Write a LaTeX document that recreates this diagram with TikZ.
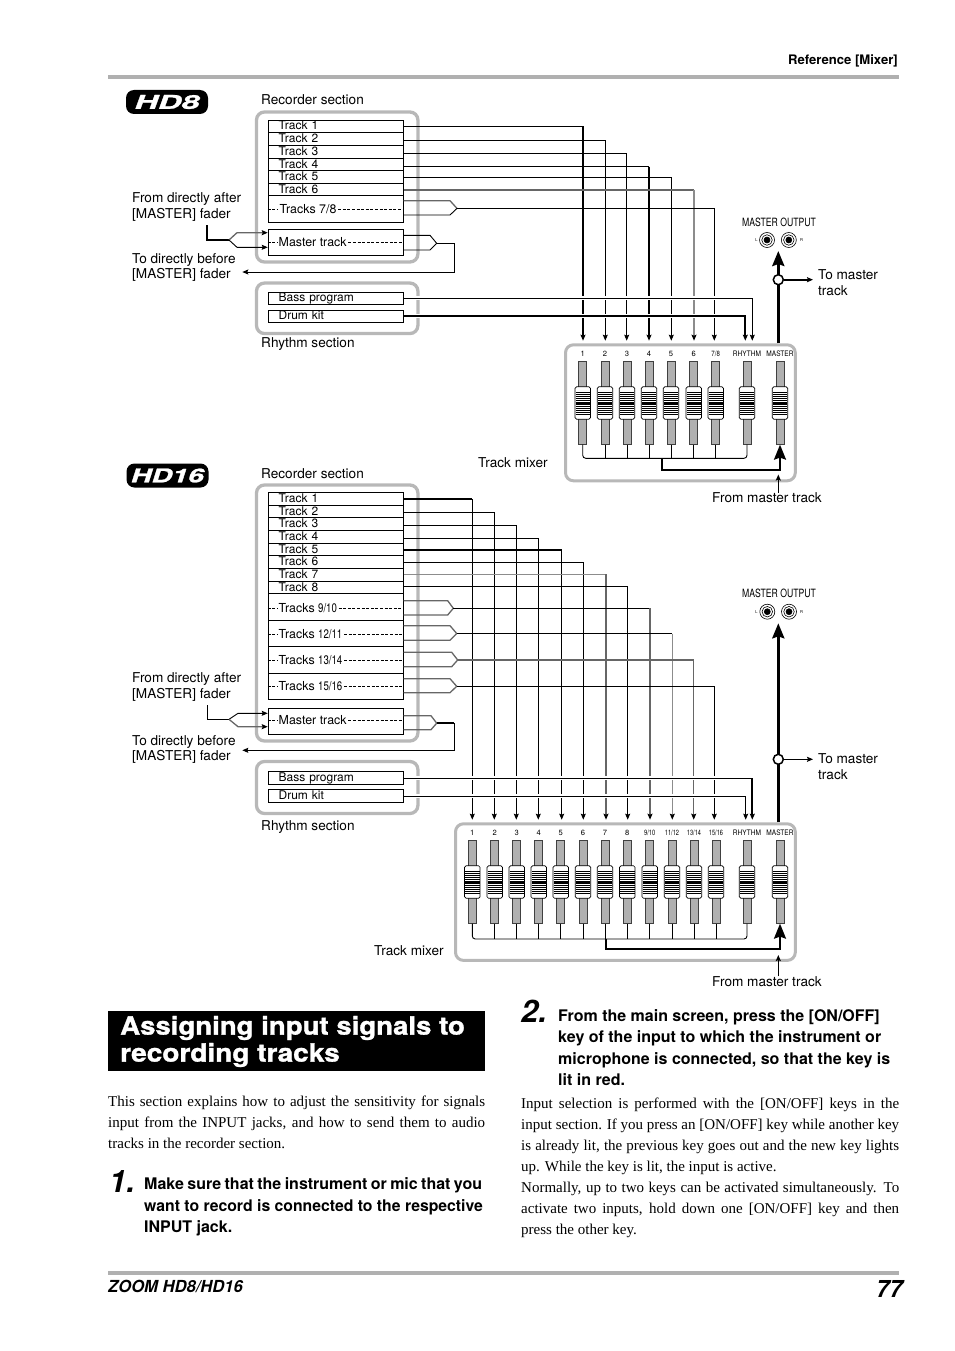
\documentclass[tikz,border=0pt]{standalone}
\usepackage{fontspec}
\setmainfont{Liberation Serif}
\setsansfont{TeX Gyre Heros}
\usetikzlibrary{arrows.meta}

\definecolor{rulegrey}{HTML}{B0B0B0}
\definecolor{framegrey}{HTML}{B8B8B8}
\definecolor{wiregrey}{HTML}{666666}
\definecolor{slotgrey}{HTML}{B0B0B0}

\newcommand{\fsz}[1]{\fontsize{#1}{#1}\selectfont}

\tikzset{
    smalltip/.tip={Stealth[length=6pt,width=5pt,inset=1pt,color=black]},
    bigtip/.tip={Stealth[length=15pt,width=12pt,inset=2pt]},
    wirethin/.style={line width=.9pt},
    wirebus/.style={line width=1.3pt,draw=wiregrey},
    wirepale/.style={line width=1.2pt,draw=black!45},
    wireheavy/.style={line width=1.9pt},
    halo/.style={line width=4pt,draw=white},
    dashrow/.style={line width=.6pt,dash pattern=on 3pt off 1.6pt},
    frame/.style={draw=framegrey,line width=3.3pt,rounded corners=8pt,minimum width=161.4pt},
    mixframe/.style={draw=framegrey,line width=3pt,rounded corners=8pt,fill=white},
    rowbox/.style={draw,line width=.8pt,text width=114pt,inner xsep=10.5pt,inner ysep=0pt,
        text height=8.4pt,text depth=1.3pt,font=\sffamily\fsz{12},align=left},
    rowtext/.style={anchor=west,inner xsep=1.5pt,inner ysep=0pt,font=\sffamily\fsz{12.4}},
    lbl/.style={anchor=west,inner sep=0pt,font=\sffamily\fsz{13.6},align=left},
    chan/.style={inner sep=0pt,text height=5.6pt,text depth=0pt,font=\sffamily\fsz{7.6}},
    slot/.style={draw=black!75,line width=.7pt,fill=slotgrey,minimum width=8pt,minimum height=82.6pt,inner sep=0pt},
    knob/.style={draw,line width=.7pt,fill=white,rounded corners=1.5pt,minimum width=15.5pt,minimum height=32.4pt,inner sep=0pt},
    badge/.style={fill=black,text=white,rounded corners=8pt,minimum width=82pt,minimum height=24pt,inner sep=0pt,
        font=\sffamily\bfseries\itshape\fsz{19}\addfontfeature{FakeBold=1.2}},
    jack/.style={circle,draw,line width=.6pt,inner sep=0pt},
    tap/.style={circle,draw,line width=1.5pt,fill=white,minimum size=10pt,inner sep=0pt},
    bodytext/.style={anchor=west,inner sep=0pt,align=justify,font=\rmfamily\fsz{15}},
    steptext/.style={anchor=west,inner sep=0pt,align=left,font=\sffamily\bfseries\fontsize{16}{21.6}\selectfont},
    stepnum/.style={inner sep=0pt,font=\sffamily\bfseries\itshape\fsz{31}},
}

% name, x, top of the slot, text above it
\newcommand{\faderstrip}[4]{
    \node[chan] (#1l) at (#2,#3-8.4) {#4};
    \node[slot] (#1) at (#2,#3+41.3) {};
    \node[knob] (#1k) at (#2,#3+41.3) {};
    \foreach \dy/\lw in {-11/.9,-9/.9,-7/.9,-5/.9,-3/1,0/3,3/1,5/.9,7/.9,9/.9,11/.9}
        \draw[line width=\lw pt] (#2-7.2,#3+41.3+\dy) -- (#2+7.2,#3+41.3+\dy);
}
% name, x, y
\newcommand{\jackpair}[3]{
    \node[jack,minimum size=15pt] (#1) at (#2,#3) {};
    \node[jack,minimum size=10.5pt] at (#1) {};
    \node[jack,fill=black,minimum size=6pt] at (#1) {};
}

\begin{document}
\begin{tikzpicture}[x=1pt,y=-1pt]
    \useasboundingbox (0,0) rectangle (954,1351);

    % page furniture
    \fill[rulegrey] (108,75) rectangle (899,79.5);
    \fill[rulegrey] (108,1270.5) rectangle (899,1275);
    \node[anchor=east,inner sep=0pt,font=\sffamily\bfseries\fsz{13.1}] (head) at (898,60.5) {Reference [Mixer]};
    \node[anchor=west,inner sep=0pt,font=\sffamily\bfseries\itshape\fsz{16.6}] (foot) at (108,1286) {ZOOM HD8/HD16};
    \node[anchor=east,inner sep=0pt,font=\sffamily\bfseries\itshape\fsz{24}] (page) at (903,1289) {77};

    % ---- HD8 ----
    \node[badge] (hd8) at (167,102) {\scalebox{1.7}[1]{HD8}};
    \node[lbl] (arec) at (261,99.5) {Recorder section};
    \node[lbl] (arhy) at (261,344.5) {Rhythm section};
    \node[lbl] (afrom) at (132,207) {From directly after\\[1.6pt][MASTER] fader};
    \node[lbl] (ato) at (132,267.5) {To directly before\\[1.6pt][MASTER] fader};
    \node[lbl] (amix) at (478,462.5) {Track mixer};
    \node[lbl] (afm) at (712,498) {From master track};
    \node[lbl,inner xsep=5pt] (atot) at (813,282.5) {To master\\[2.5pt]track};

    \node[frame,minimum height=150pt] (asec) at (337.2,187) {};
    \node[frame,minimum height=50.5pt] (bsec) at (337.2,308.3) {};
    \foreach \n/\y/\h/\lab in {1/126.3/12/Track 1,2/138.8/13/Track 2,3/151.8/13/Track 3,
        4/164.5/12.4/Track 4,5/177/12.6/Track 5,6/189.5/12.4/Track 6}
        \node[rowbox,minimum height=\h pt] (at\n) at (335.65,\y) {\lab};
    \node[rowbox,minimum height=26.3pt] (at7) at (335.65,208.85) {};
    \node[rowtext] (al7) at (278,208.85) {Tracks 7/8};
    \node[rowbox,minimum height=26pt] (atm) at (335.65,242.3) {};
    \node[rowtext] (alm) at (277,242.3) {Master track};
    \node[rowbox,minimum height=12pt] (abas) at (335.65,298.3) {Bass program};
    \node[rowbox,minimum height=12pt] (adrm) at (335.65,316.3) {Drum kit};
    \foreach \n in {7,m}{
        \draw[dashrow] (at\n.west) -- (al\n.west);
        \draw[dashrow] (al\n.east) -- (at\n.east);
    }

    \node[mixframe,minimum width=229.8pt,minimum height=136pt] (amx) at (680.4,412.8) {};
    \foreach \n/\x/\lab in {1/582.7/1,2/605/2,3/627/3,4/649/4,5/671/5,6/693.7/6}
        {\faderstrip{af\n}{\x}{361.7}{\lab}}
    \faderstrip{af7}{715.7}{361.7}{\scalebox{.8}[1]{7/8}}
    \faderstrip{afR}{747}{361.7}{\scalebox{.86}[1]{RHYTHM}}
    \faderstrip{afM}{780}{361.7}{\scalebox{.86}[1]{MASTER}}

    % tips of the wires into the mixer
    \foreach \n/\x in {1/583,2/605.3,3/626.7,4/649,5/671.3,6/694,7/714.3,B/752.3,D/745.3}
        \coordinate (ai\n) at (\x,340.7);
    \coordinate (am7) at (457,208.4);
    \coordinate (amm) at (436.7,243.3);
    \coordinate (ain) at (229,240);
    \coordinate (aback) at (242.3,272);
    \coordinate (aup) at (207,225);

    \foreach \n/\wy/\hs/\vs in {1/126.3/wirethin/wireheavy,2/140.3/wirethin/wirethin,3/153.3/wirethin/wirethin,
        4/166.7/wirethin/wireheavy,5/177.3/wirethin/wirethin,6/190/wirebus/wirepale}{
        \draw[\hs] (at\n.east |- 0,\wy) -- (ai\n |- 0,\wy);
        \draw[\vs,-smalltip] (ai\n |- 0,\wy) -- (ai\n);
    }
    \draw[wirebus,line join=miter] (at7.east |- 0,200.7) -- (450,200.7) -- (am7);
    \draw[wirethin] (am7) -- (450,215) -- (at7.east |- 0,215);
    \draw[wirethin,-smalltip] (am7) -| (ai7);

    \draw[halo] (abas.east) -- (abas.east -| aiB);
    \draw[halo] (adrm.east) -- (adrm.east -| aiD);
    \draw[wirethin,-smalltip] (abas.east) -| (aiB);
    \draw[wireheavy,-smalltip] (adrm.east) -| (aiD);

    \draw[wirethin] (atm.east |- 0,235.3) -- (430,235.3) -- (amm) -- (430,250) -- (atm.east |- 0,250);
    \draw[wirethin,-smalltip] (amm) -- (454.3,243.3) |- (aback);
    \draw[wireheavy] (aup) |- (ain);
    \draw[wirebus,-smalltip] (ain) -- (237,232.7) -- (atm.west |- 0,232.7);
    \draw[wirethin,-smalltip] (ain) -- (237,247.3) -- (atm.west |- 0,247.3);

    % bus under the faders, and the master
    \draw[wirethin,rounded corners=3pt] (af1.south) |- (afR.south |- 0,458.3) -- (afR.south);
    \foreach \n in {2,3,4,5,6,7}
        \draw[wirethin] (af\n.south) -- (af\n.south |- 0,458.3);
    \coordinate (abus) at (661.7,458.3);
    \draw[wireheavy,-bigtip] (abus) -- (661.7,470) -| (afM.south);
    \coordinate (afmt) at (778.3,474.5);
    \draw[line width=1.3pt,-smalltip] (afm.north -| afmt) -- (afmt);

    \node[inner sep=0pt,font=\sffamily\fsz{11.4}] (amo) at (779,222) {\scalebox{.76}[1]{MASTER OUTPUT}};
    \jackpair{ajl}{767}{240}
    \jackpair{ajr}{788.8}{240}
    \node[inner sep=0pt,font=\sffamily\fsz{4}] (all) at (756.5,240) {L};
    \node[inner sep=0pt,font=\sffamily\fsz{4}] (alr) at (801.5,240) {R};
    \coordinate (atop) at (778.3,251);
    \draw[line width=3pt,-bigtip] (amx.north -| atop) -- (atop);
    \node[tap] (atap) at (778.3,279.7) {};
    \draw[line width=1.6pt,-smalltip] (atap.east) -- (atot.west |- atap);

    % ---- HD16 ----
    \node[badge] (hd16) at (167.5,475.5) {\scalebox{1.5}[1]{HD16}};
    \node[lbl] (brec) at (261,473.5) {Recorder section};
    \node[lbl] (brhy) at (261,827) {Rhythm section};
    \node[lbl] (bfrom) at (132,687) {From directly after\\[1.6pt][MASTER] fader};
    \node[lbl] (bto) at (132,749.5) {To directly before\\[1.6pt][MASTER] fader};
    \node[lbl] (bmix) at (374,951) {Track mixer};
    \node[lbl] (bfm) at (712,981.5) {From master track};
    \node[lbl,inner xsep=5pt] (btot) at (813,766.5) {To master\\[2.5pt]track};

    \node[frame,minimum height=256pt] (csec) at (337.2,613) {};
    \node[frame,minimum height=52pt] (dsec) at (337.2,787.5) {};
    \foreach \n/\y/\h/\lab in {1/499/13.4/Track 1,2/511.5/11.6/Track 2,3/523.8/13/Track 3,4/536.8/13/Track 4,
        5/549.5/12.4/Track 5,6/562/12.6/Track 6,7/574.8/13/Track 7,8/587.5/12.4/Track 8}
        \node[rowbox,minimum height=\h pt] (bt\n) at (335.65,\y) {\lab};
    \foreach \n/\y/\h in {9/607/26.6,11/633.3/26,13/659.8/27,15/686.3/26}
        \node[rowbox,minimum height=\h pt] (bt\n) at (335.65,\y) {};
    \node[rowtext] (bl9) at (277,608) {Tracks \scalebox{.78}[1]{9/10}};
    \node[rowtext] (bl11) at (277,634) {Tracks \scalebox{.78}[1]{12/11}};
    \node[rowtext] (bl13) at (277,660) {Tracks \scalebox{.78}[1]{13/14}};
    \node[rowtext] (bl15) at (277,686) {Tracks \scalebox{.78}[1]{15/16}};
    \node[rowbox,minimum height=26pt] (btm) at (335.65,721.3) {};
    \node[rowtext] (blm) at (277,720) {Master track};
    \node[rowbox,minimum height=12.6pt] (bbas) at (335.65,778) {Bass program};
    \node[rowbox,minimum height=13pt] (bdrm) at (335.65,795.8) {Drum kit};
    \foreach \n in {9,11,13,15,m}{
        \draw[dashrow] (bt\n.west |- bl\n) -- (bl\n.west);
        \draw[dashrow] (bl\n.east) -- (bt\n.east |- bl\n);
    }

    \node[mixframe,minimum width=339.8pt,minimum height=136.6pt] (bmx) at (625.4,892.1) {};
    \foreach \n/\x/\lab in {1/472.3/1,2/494.7/2,3/516.7/3,4/538.7/4,5/560.7/5,6/583/6,7/605/7,8/627.3/8}
        {\faderstrip{bf\n}{\x}{840.7}{\lab}}
    \faderstrip{bf9}{649.7}{840.7}{\scalebox{.74}[1]{9/10}}
    \faderstrip{bf10}{672}{840.7}{\scalebox{.74}[1]{11/12}}
    \faderstrip{bf11}{694}{840.7}{\scalebox{.74}[1]{13/14}}
    \faderstrip{bf12}{716}{840.7}{\scalebox{.74}[1]{15/16}}
    \faderstrip{bfR}{747}{840.7}{\scalebox{.86}[1]{RHYTHM}}
    \faderstrip{bfM}{780}{840.7}{\scalebox{.86}[1]{MASTER}}

    \foreach \n/\x in {1/472.3,2/494.3,3/516.3,4/538.3,5/561.7,6/583.3,7/606,8/627.7,
        9/650,11/672.3,13/693.7,15/714.3,B/752.3,D/745.7}
        \coordinate (bi\n) at (\x,819.7);
    \coordinate (bm9) at (453.3,608.3);
    \coordinate (bm11) at (456.7,633.5);
    \coordinate (bm13) at (457.7,660);
    \coordinate (bm15) at (456.7,686.3);
    \coordinate (bmm) at (436.7,723.2);
    \coordinate (bin) at (229,719.3);
    \coordinate (bback) at (242.3,750.3);
    \coordinate (bup) at (207,705);

    \foreach \n/\wy/\hs/\vs in {1/499/wireheavy/wirethin,2/512.3/wirethin/wirethin,3/525.3/wirethin/wirethin,
        4/538.3/wirethin/wirethin,5/550/wireheavy/wirethin,6/562.3/wirethin/wirethin,7/574.3/wirepale/wirebus,
        8/586.3/wirethin/wirethin}{
        \draw[\hs] (bt\n.east |- 0,\wy) -- (bi\n |- 0,\wy);
        \draw[\vs,-smalltip] (bi\n |- 0,\wy) -- (bi\n);
    }
    \foreach \n/\hs/\vs/\up/\dn/\cx in {9/wirethin/wirebus/600.7/615/447.7,11/wirethin/wirepale/625.7/640.3/450,
        13/wirebus/wirebus/652.3/666.7/451.7,15/wirethin/wirethin/678.7/692.7/450}{
        \draw[wirebus,line join=miter] (bt\n.east |- 0,\up) -- (\cx,\up) -- (bm\n) -- (\cx,\dn) -- (bt\n.east |- 0,\dn);
        \draw[\hs] (bm\n) -- (bi\n |- bm\n);
        \draw[\vs,-smalltip] (bi\n |- bm\n) -- (bi\n);
    }

    \draw[halo] (bbas.east |- 0,778.3) -- (biB |- 0,778.3);
    \draw[halo] (bdrm.east |- 0,796.3) -- (biD |- 0,796.3);
    \draw[wirethin] (bbas.east |- 0,778.3) -- (biB |- 0,778.3);
    \draw[wireheavy,-smalltip] (biB |- 0,778.3) -- (biB);
    \draw[wirethin,-smalltip] (bdrm.east |- 0,796.3) -| (biD);

    \draw[wirebus,line join=miter] (btm.east |- 0,715.7) -- (431,715.7) -- (bmm) -- (431,729.7) -- (btm.east |- 0,729.7);
    \draw[wireheavy] (bmm) -- (454.3,723.2);
    \draw[wirethin,-smalltip] (454.3,723.2) |- (bback);
    \draw[wirethin] (bup) |- (bin);
    \draw[wirethin,-smalltip] (bin) -- (238,713.3) -- (btm.west |- 0,713.3);
    \draw[wirebus,-smalltip] (bin) -- (238,726.7) -- (btm.west |- 0,726.7);

    \draw[wirethin,rounded corners=3pt] (bf1.south) |- (bfR.south |- 0,939) -- (bfR.south);
    \foreach \n in {2,3,4,5,6,7,8,9,10,11,12}
        \draw[wirethin] (bf\n.south) -- (bf\n.south |- 0,939);
    \coordinate (bbus) at (605.7,939);
    \draw[wireheavy,-bigtip] (bbus) -- (605.7,949) -| (bfM.south);
    \coordinate (bfmt) at (778.3,955);
    \draw[line width=1.3pt,-smalltip] (bfm.north -| bfmt) -- (bfmt);

    \node[inner sep=0pt,font=\sffamily\fsz{11.4}] (bmo) at (779,593.7) {\scalebox{.76}[1]{MASTER OUTPUT}};
    \jackpair{bjl}{767.3}{611.7}
    \jackpair{bjr}{789}{611.7}
    \node[inner sep=0pt,font=\sffamily\fsz{4}] (bll) at (756.5,611.7) {L};
    \node[inner sep=0pt,font=\sffamily\fsz{4}] (blr) at (801.5,611.7) {R};
    \coordinate (btop) at (778.3,623.3);
    \draw[line width=3pt,-bigtip] (bmx.north -| btop) -- (btop);
    \node[tap] (btap) at (778.3,759.3) {};
    \draw[wirethin,-smalltip] (btap.east) -- (btot.west |- btap);

    % ---- text ----
    \fill[black] (108,1011) rectangle (485,1070.7);
    \node[anchor=west,inner sep=0pt,text=white,align=left,font=\sffamily\bfseries\fsz{25}\addfontfeature{FakeBold=1.2}] (title) at (120,1041.5)
        {\scalebox{1.103}[1]{Assigning input signals to}\\[2pt]\scalebox{1.12}[1]{recording tracks}};
    \node[bodytext,text width=377pt] (intro) at (108,1122.5)
        {\fsz{15}\baselineskip=21.2pt This section explains how to adjust the sensitivity for signals input from the INPUT jacks, and how to send them to audio tracks in the recorder section.\par};
    \node[stepnum] (one) at (122,1181) {1.};
    \node[steptext] (onet) at (144,1207) {\spaceskip=3.4pt Make sure that the instrument or mic that you\\\scalebox{.986}[1]{want to record is connected to the respective}\\INPUT jack.};
    \node[stepnum] (two) at (534,1011) {2.};
    \node[steptext] (twot) at (558,1047.5) {From the main screen, press the [ON/OFF]\\key of the input to which the instrument or\\microphone is connected, so that the key is\\lit in red.};
    \node[bodytext,text width=378pt] (press) at (521,1167.5)
        {\fsz{15}\baselineskip=21pt Input selection is performed with the [ON/OFF] keys in the\linebreak input section. If you press an [ON/OFF] key while another key\linebreak is already lit, the previous key goes out and the new key lights\linebreak up. While the key is lit, the input is active.\\Normally, up to two keys can be activated simultaneously. To activate two inputs, hold down one [ON/OFF] key and then press the other key.\par};
\end{tikzpicture}
\end{document}
